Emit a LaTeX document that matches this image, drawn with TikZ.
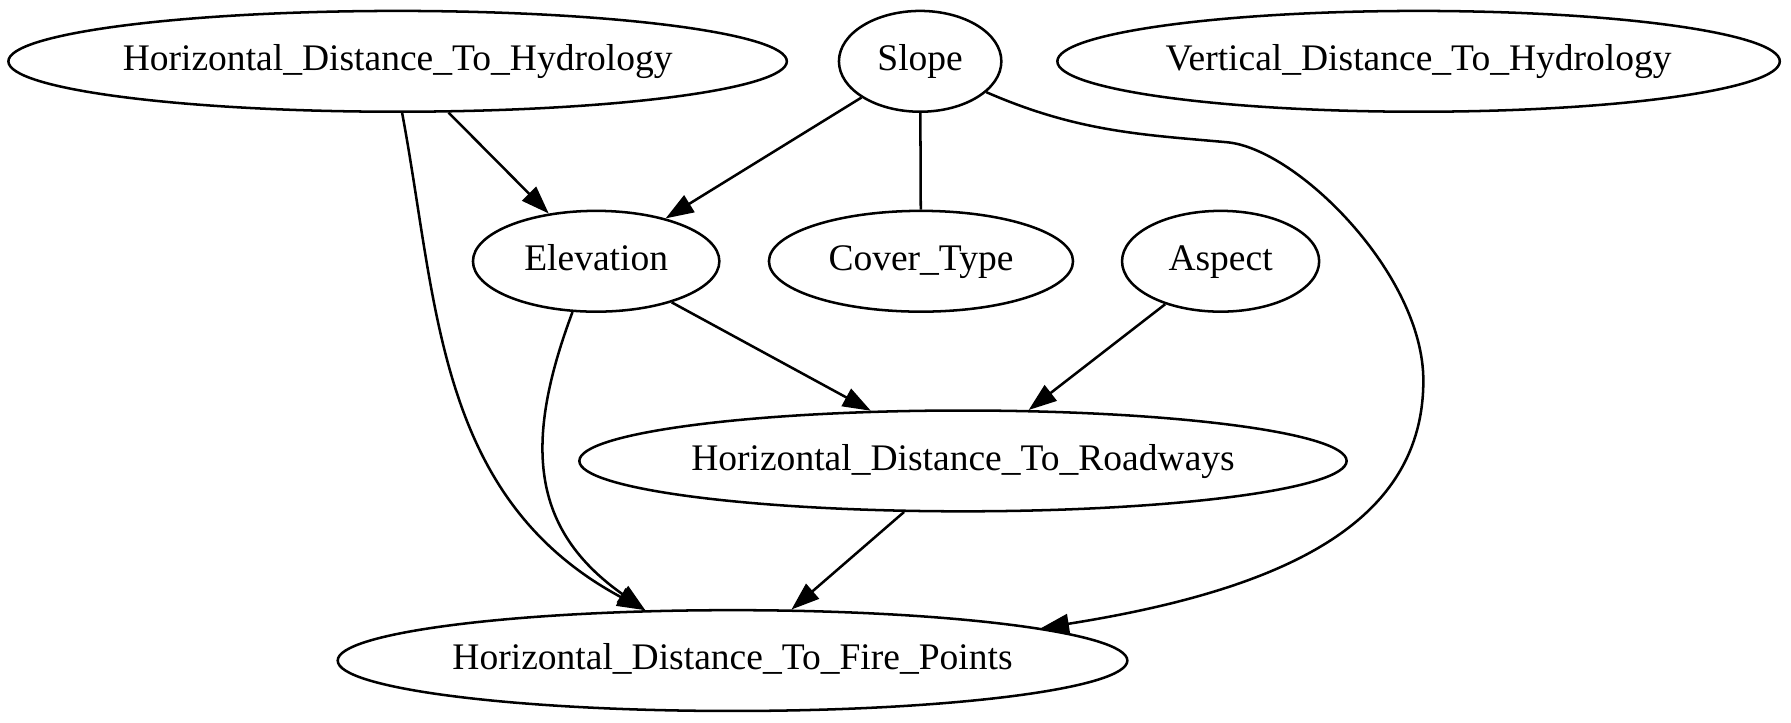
\documentclass[tikz,border=0pt]{standalone}
\usepackage{fontspec}
\setmainfont{Liberation Serif}
\usetikzlibrary{shapes.geometric,arrows.meta}
\tikzset{>={Triangle[length=10pt,width=7pt]}}
\tikzset{var/.style={draw,ellipse,inner sep=0pt,minimum height=36pt,text height=9.6pt,text depth=3pt,font=\fontsize{13.4}{16}\selectfont}}
\newcommand{\lbl}[1]{\makebox[0pt]{#1}}

\begin{document}
\begin{tikzpicture}[x=1pt,y=1pt,line width=0.9pt]
    \useasboundingbox (0,0) rectangle (639.6,257.9);
    \node[var,minimum width=278pt] (hdh) at (142,236) {\lbl{Horizontal\_Distance\_To\_Hydrology}};
    \node[var,minimum width=58pt] (slope) at (328.6,236) {\lbl{Slope}};
    \node[var,minimum width=258pt] (vdh) at (506.6,236) {\lbl{Vertical\_Distance\_To\_Hydrology}};
    \node[var,minimum width=88pt] (elev) at (212.9,164.6) {\lbl{Elevation}};
    \node[var,minimum width=108.6pt] (cover) at (328.9,164.6) {\lbl{Cover\_Type}};
    \node[var,minimum width=70.4pt] (aspect) at (435.9,164.6) {\lbl{Aspect}};
    \node[var,minimum width=274pt] (hdr) at (343.9,93.3) {\lbl{Horizontal\_Distance\_To\_Roadways}};
    \node[var,minimum width=282pt] (hdf) at (261.6,22) {\lbl{Horizontal\_Distance\_To\_Fire\_Points}};
    \draw[->] (hdh) -- (elev);
    \draw[->] (slope) -- (elev);
    \draw (slope) -- (cover);
    \draw[->] (elev) -- (hdr);
    \draw[->] (aspect) -- (hdr);
    \draw[->] (hdr) -- (hdf);
    \draw[->] (hdh.-85) .. controls (156.4,149.2) and (155.8,80.1) .. (hdf.150.4);
    \draw[->] (elev.-115) .. controls (186.9,99.6) and (189.5,68.8) .. (hdf.150.4);
    \draw[->] (slope.-25) .. controls (385,210.7) and (408.3,209.8) .. (438.2,207.1)
        .. controls (463.1,204.85) and (508.3,160) .. (508.3,122)
        .. controls (508.3,72) and (460.6,47.7) .. (hdf.6.5);
\end{tikzpicture}
\end{document}
